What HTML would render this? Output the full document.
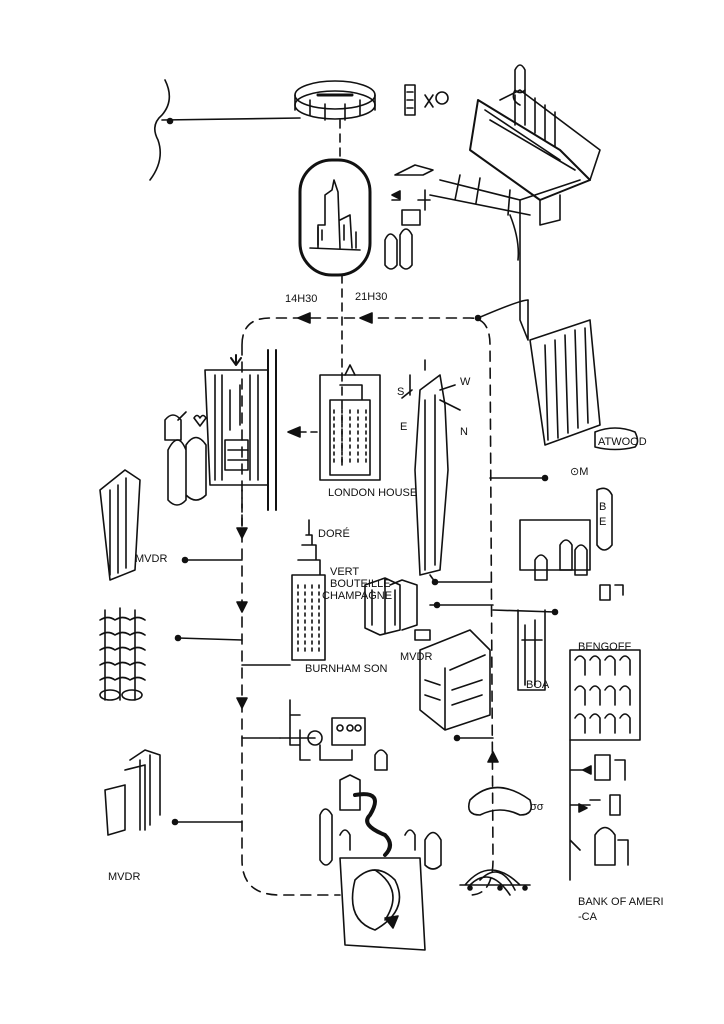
<!DOCTYPE html>
<html><head><meta charset="utf-8"><style>
html,body{margin:0;padding:0;background:#fff}
svg{display:block}
text{font-family:"Liberation Sans",sans-serif;fill:#111;font-size:11px}
</style></head><body>
<svg width="724" height="1024" viewBox="0 0 724 1024" xmlns="http://www.w3.org/2000/svg" fill="none" stroke="#111" stroke-width="1.6" stroke-linecap="round" stroke-linejoin="round">
<path d="M165 80 Q175 100 162 115 Q150 125 158 140 Q165 160 150 180 M162 120 L300 118"/>
<circle cx="170" cy="121" r="2.5" fill="#111"/>
<ellipse cx="335" cy="95" rx="40" ry="14"/>
<ellipse cx="335" cy="105" rx="40" ry="14"/>
<path d="M295 95 L295 110 M375 95 L375 110 M310 100 l0 15 M325 104 l0 16 M345 104 l0 16 M360 100 l0 15"/>
<path d="M318 95 L352 95" stroke-width="3"/>
<path d="M340 120 L340 160 M342 275 L342 470" stroke-dasharray="8 6"/>
<rect x="300" y="160" width="70" height="115" rx="32" stroke-width="3"/>
<path d="M310 248 L360 250 M318 248 L318 225 L325 225 L325 195 L332 190 L334 180 L338 192 L340 248 M340 220 L350 215 L352 248 M356 248 L356 232"/>
<path d="M318 245 l0-18 M322 240 l0-10 M344 240 l0-15"/>
<path d="M405 85 l0 30 l10 0 l0-30 z M407 92 l6 0 M407 100 l6 0 M407 108 l6 0"/>
<path d="M425 95 l8 12 M433 95 l-8 12" />
<circle cx="442" cy="98" r="6"/>
<path d="M395 175 l20-10 l18 5 l-10 5 z M400 200 l-8 0 M425 190 l0 20 M418 200 l12 0"/>
<path d="M392 195 l8-4 l0 8 z" fill="#111"/>
<path d="M402 210 l18 0 l0 15 l-18 0 z"/>
<path d="M385 240 q5-12 12 0 l0 25 q-6 8 -12 0 z M400 235 q6-12 12 0 l0 30 q-6 8 -12 0 z"/>
<path d="M478 100 L560 150 L590 180 L540 200 L470 150 Z" stroke-width="2"/>
<path d="M485 110 L560 160 M490 120 L575 170 M500 100 L520 90 L600 150 L590 180"/>
<path d="M515 95 l0 30 M525 90 l0 35 M535 98 l0 35 M545 105 l0 35 M555 112 l0 35"/>
<path d="M440 180 L520 200 L580 180 M430 195 L530 215 M460 175 L455 200 M480 178 l-4 25 M510 190 l-2 25"/>
<path d="M520 200 L520 320 L528 340 L528 300 M510 215 Q520 240 518 260 M540 200 L540 225 L560 220 L560 195"/>
<path d="M515 70 q5-10 10 0 l0 20 q-5 5 -10 0 z M515 90 q-5 10 5 15"/>
<path d="M478 318 Q520 300 528 300"/>
<circle cx="478" cy="318" r="2.5" fill="#111"/>
<path d="M242 345 Q242 318 270 318 L470 318 Q490 318 490 345 L493 860 Q493 895 470 895 M242 345 L242 860 Q242 895 280 895 L340 895" stroke-dasharray="10 7"/>
<path d="M298 318 l12-5 l0 10 z" fill="#111"/>
<path d="M360 318 l12-5 l0 10 z" fill="#111"/>
<path d="M242 538 l-5-10 l10 0 z" fill="#111"/>
<path d="M242 612 l-5-10 l10 0 z" fill="#111"/>
<path d="M242 708 l-5-10 l10 0 z" fill="#111"/>
<path d="M493 752 l-5 10 l10 0 z" fill="#111"/>
<text x="285" y="302" font-size="12" stroke="none">14H30</text>
<text x="355" y="300" font-size="12" stroke="none">21H30</text>
<path d="M205 370 L268 370 L268 485 L210 485 Z M215 375 L215 480 M222 375 L222 480 M250 375 L250 480 M258 375 L258 480 M225 440 L248 440 L248 470 L225 470 Z"/>
<path d="M268 350 L268 510 M276 350 L276 510" stroke-width="2"/>
<path d="M236 355 l0 10 M231 358 l5 7 l5-7" stroke-width="2"/>
<path d="M230 390 l0 40 M240 385 l0 40 M228 450 l20 0 M228 460 l20 0"/>
<path d="M288 432 l12-5 l0 10 z" fill="#111"/>
<path d="M300 432 L318 432" stroke-dasharray="6 5"/>
<path d="M165 420 q8-10 16 0 l0 20 l-16 0 z M178 420 l8-8"/>
<path d="M168 450 q10-20 18 0 l0 50 q-9 10 -18 0 z M186 445 q10-15 20 0 l0 50 q-10 10 -20 0 z"/>
<path d="M194 418 q3-5 6 0 q3-5 6 0 l-6 8 z"/>
<path d="M242 490 L242 535" stroke-dasharray="8 6"/>
<path d="M320 375 L380 375 L380 480 L320 480 Z"/>
<path d="M330 400 L370 400 L370 475 L330 475 Z M340 385 L362 385 L362 400 M345 375 L350 365 L355 375"/>
<path d="M334 410 l0 55 M342 410 l0 55 M350 410 l0 55 M358 410 l0 55 M366 410 l0 55" stroke-dasharray="3 4"/>
<text x="328" y="496" font-size="9" stroke="none">LONDON HOUSE</text>
<path d="M420 390 L440 375 L445 405 L448 470 L440 570 L420 575 L415 470 Z"/>
<path d="M425 400 l0 170 M435 395 l0 170"/>
<path d="M410 375 l0 20 M412 390 l-10 8 M440 390 l15 -5 M440 400 l20 10 M425 370 l0 -10"/>
<text x="397" y="395" font-size="10" stroke="none">S</text>
<text x="400" y="430" font-size="10" stroke="none">E</text>
<text x="460" y="385" font-size="10" stroke="none">W</text>
<text x="460" y="435" font-size="10" stroke="none">N</text>
<path d="M430 575 L435 582 L490 582" />
<circle cx="435" cy="582" r="2.5" fill="#111"/>
<path d="M530 340 L590 320 L600 425 L545 445 Z M545 345 l3 95 M555 340 l3 98 M565 335 l3 98 M575 330 l3 98 M585 328 l3 95"/>
<path d="M490 478 L545 478"/><circle cx="545" cy="478" r="2.5" fill="#111"/>
<text x="598" y="445" font-size="10" stroke="none">ATWOOD</text>
<path d="M595 432 q20-8 40 0 q5 10 0 15 q-20 5 -40 0 z"/>
<text x="570" y="475" font-size="11" stroke="none">⊙M</text>
<path d="M597 490 q10-5 15 5 l0 50 q-8 10 -15 0 z"/>
<text x="599" y="510" font-size="9" stroke="none">B</text>
<text x="599" y="525" font-size="9" stroke="none">E</text>
<path d="M520 520 L590 520 L590 570 L520 570 Z"/>
<path d="M535 560 q6-10 12 0 l0 20 l-12 0 z M560 545 q6-10 12 0 l0 25 l-12 0 z M575 550 q6-10 12 0 l0 25 l-12 0z"/>
<path d="M600 585 l10 0 l0 15 l-10 0z M615 585 l8 0 l0 10"/>
<text x="578" y="650" font-size="10" stroke="none">BENGOFF</text>
<path d="M493 610 L555 612"/><circle cx="555" cy="612" r="2.5" fill="#111"/>
<path d="M518 610 L518 690 L545 690 L545 610 M522 640 l20 0 M525 625 l0 60 M535 620 l0 65"/>
<text x="526" y="688" font-size="9" stroke="none">BOA</text>
<path d="M570 650 L640 650 L640 740 L570 740 Z"/>
<path d="M575 660 q5-8 10 0 l0 15 M590 660 q5-8 10 0 l0 15 M605 660 q5-8 10 0 l0 15 M620 660 q5-8 10 0 l0 15 M575 690 q5-8 10 0 l0 15 M590 690 q5-8 10 0 l0 15 M605 690 q5-8 10 0 l0 15 M620 690 q5-8 10 0 l0 15 M575 718 q5-8 10 0 l0 15 M590 718 q5-8 10 0 l0 15 M605 718 q5-8 10 0 l0 15 M620 718 q5-8 10 0 l0 15"/>
<path d="M570 740 L570 880 M570 770 L590 770 M570 805 L590 805 M570 840 L580 850"/>
<path d="M583 770 l8-4 l0 8z M587 808 l-8-4 l0 8z" fill="#111"/>
<path d="M595 755 l15 0 l0 25 l-15 0z M615 760 l10 0 l0 20"/>
<path d="M590 800 l10 0 M610 795 l10 0 l0 20 l-10 0 z"/>
<path d="M595 835 q10-15 20 0 l0 30 l-20 0 z M618 840 l10 0 l0 25"/>
<text x="578" y="905" font-size="10" stroke="none">BANK OF AMERI</text>
<text x="578" y="920" font-size="10" stroke="none">-CA</text>
<path d="M100 490 L125 470 L140 480 L135 570 L110 580 Z M110 490 l0 85 M118 485 l0 88 M126 478 l0 90"/>
<text x="135" y="562" font-size="10" stroke="none">MVDR</text>
<path d="M185 560 L242 560" /><circle cx="185" cy="560" r="2.5" fill="#111"/>
<path d="M105 610 l0 90 M120 608 l0 92 M135 610 l0 90"/>
<path d="M100 620 q8-5 15 0 q8-5 15 0 q8-5 15 0 M100 635 q8-5 15 0 q8-5 15 0 q8-5 15 0 M100 650 q8-5 15 0 q8-5 15 0 q8-5 15 0 M100 665 q8-5 15 0 q8-5 15 0 q8-5 15 0 M100 680 q8-5 15 0 q8-5 15 0 q8-5 15 0"/>
<ellipse cx="110" cy="695" rx="10" ry="5"/><ellipse cx="132" cy="695" rx="10" ry="5"/>
<path d="M178 638 L242 640"/><circle cx="178" cy="638" r="2.5" fill="#111"/>
<path d="M105 790 L125 785 L125 830 L108 835 Z M125 770 L145 765 L145 830 M130 760 l15 -10 l15 5 l0 60 M140 760 l0 70 M150 755 l0 70"/>
<text x="108" y="880" font-size="10" stroke="none">MVDR</text>
<path d="M175 822 L242 822"/><circle cx="175" cy="822" r="2.5" fill="#111"/>
<path d="M292 575 L325 575 L325 660 L292 660 Z M298 560 L320 560 L320 575 M302 545 L316 545 L316 560 M306 535 l6 0 l0 10 M309 520 l0 15"/>
<path d="M298 585 l0 70 M305 585 l0 70 M312 585 l0 70 M319 585 l0 70" stroke-dasharray="3 4"/>
<text x="318" y="537" font-size="8" stroke="none">DORÉ</text>
<text x="330" y="575" font-size="8" stroke="none">VERT</text>
<text x="330" y="587" font-size="8" stroke="none">BOUTEILLE</text>
<text x="322" y="599" font-size="8" stroke="none">CHAMPAGNE</text>
<text x="305" y="672" font-size="9" stroke="none">BURNHAM SON</text>
<path d="M242 665 L290 665"/>
<path d="M365 585 L385 578 L400 585 L400 630 L380 635 L365 628 Z M385 578 l0 55 M390 585 l12-5 l15 5 l0 40 l-15 5 M372 590 l0 35 M395 590 l0 35"/>
<path d="M415 630 l15 0 l0 10 l-15 0 z"/>
<text x="400" y="660" font-size="9" stroke="none">MVDR</text>
<path d="M430 605 L493 605"/><circle cx="437" cy="605" r="2.5" fill="#111"/>
<path d="M420 650 L470 630 L490 650 L490 715 L445 730 L420 710 Z M445 668 L445 730 M450 670 l35-15"/>
<path d="M425 680 l15 5 M425 695 l15 5 M452 690 l30-10 M452 705 l30-10"/>
<path d="M455 738 L493 738"/><circle cx="457" cy="738" r="2.5" fill="#111"/>
<path d="M290 700 L290 715 L300 715 M290 715 L290 745 L300 745 M280 738 L315 738 M300 730 L300 760 L310 760"/>
<circle cx="315" cy="738" r="7"/>
<path d="M332 718 L365 718 L365 745 L332 745 Z"/>
<circle cx="340" cy="728" r="3"/><circle cx="350" cy="728" r="3"/><circle cx="358" cy="728" r="3"/>
<path d="M242 738 L280 738"/>
<path d="M320 745 L320 760 L352 760 L352 750"/>
<path d="M340 780 l10-5 l10 5 l0 30 l-20 0 z M375 755 q6-10 12 0 l0 15 l-12 0 z"/>
<path d="M355 795 q30-5 15 20 q-10 10 15 20 q10 10 0 20" stroke-width="4"/>
<path d="M320 815 q5-12 12 0 l0 45 q-6 10 -12 0 z M340 835 q5-10 10 0 l0 15 M405 835 q5-10 10 0 l0 15"/>
<path d="M425 840 q8-15 16 0 l0 25 q-8 8 -16 0z"/>
<path d="M340 858 L420 858 L425 950 L345 945 Z"/>
<path d="M355 880 q20-20 40 0 q15 30 -20 50 q-30 -10 -20 -50 z M375 870 q30 20 10 50"/>
<path d="M385 918 l8 10 l5 -12 z" fill="#111"/>
<path d="M470 800 q25-25 60 0 q5 15 -10 15 q-20 -10 -40 0 q-15 0 -10 -15 z"/>
<text x="530" y="810" font-size="10" stroke="none">σσ</text>
<path d="M465 885 q25-30 55 0 M470 885 q20-20 40 10 M480 880 q20-20 35 10 M460 885 L530 885"/>
<circle cx="470" cy="888" r="2" fill="#111"/><circle cx="500" cy="888" r="2" fill="#111"/><circle cx="525" cy="888" r="2" fill="#111"/>
</svg>
</body></html>
